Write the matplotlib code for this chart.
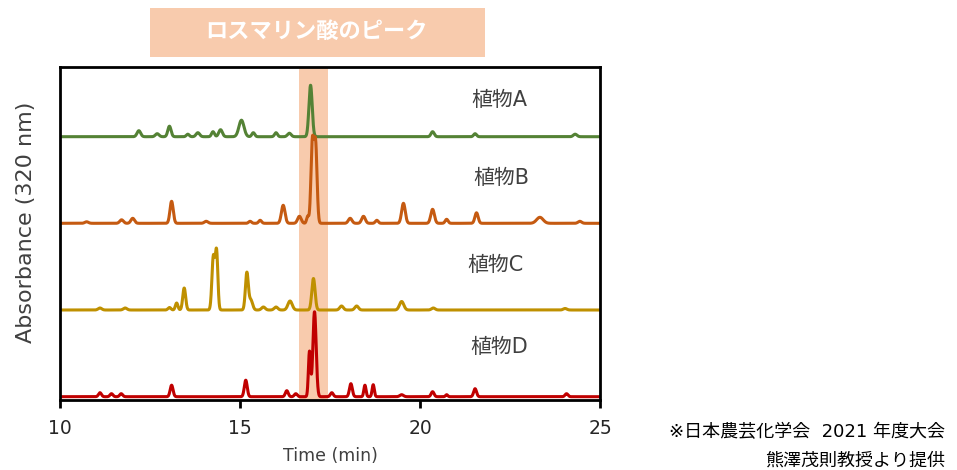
import numpy as np
import matplotlib.pyplot as plt

plt.rcParams['font.family'] = ['DejaVu Sans', 'Noto Sans CJK JP']

# peak tables: retention time (min), height, width (sigma, min)
a_times = [12.19, 12.70, 13.04, 13.55, 13.83, 14.25, 14.46, 15.04, 15.37, 16.00, 16.37, 16.96, 20.35, 21.53, 24.31]
a_heights = [6, 3, 10.5, 2.5, 4, 5, 7, 16.5, 4, 4, 3.5, 51.5, 5, 3, 2.5]
a_widths = [0.05, 0.05, 0.045, 0.04, 0.05, 0.04, 0.05, 0.07, 0.04, 0.04, 0.05, 0.045, 0.045, 0.04, 0.05]

b_times = [10.74, 11.71, 12.02, 13.10, 14.06, 15.28, 15.56, 16.20, 16.65, 16.88, 17.01, 17.10, 18.06,
           18.43, 18.80, 19.54, 20.35, 20.74, 21.57, 23.33, 24.44]
b_heights = [1.5, 3.5, 5, 22, 2, 2, 3, 18, 7, 7, 80, 78, 5, 7, 3, 20, 14, 4, 10.5, 6, 2]
b_widths = [0.05, 0.05, 0.05, 0.045, 0.05, 0.04, 0.04, 0.05, 0.05, 0.03, 0.04, 0.04, 0.05, 0.05,
            0.04, 0.05, 0.05, 0.04, 0.045, 0.09, 0.05]

c_times = [11.11, 11.81, 13.04, 13.24, 13.45, 14.26, 14.35, 15.19, 15.30, 15.65, 16.00, 16.39, 17.04,
           17.82, 18.24, 19.49, 20.37, 24.03]
c_heights = [2, 2, 2.5, 7, 22, 53, 57, 37, 10, 3, 3, 9, 31.5, 4, 4, 8.5, 2, 1.5]
c_widths = [0.05, 0.05, 0.04, 0.035, 0.04, 0.04, 0.035, 0.04, 0.05, 0.05, 0.05, 0.06, 0.045, 0.05,
            0.05, 0.06, 0.05, 0.05]

d_times = [11.11, 11.43, 11.70, 13.10, 15.16, 16.30, 16.55, 16.93, 17.07, 17.55, 18.08, 18.47, 18.70,
           19.49, 20.35, 20.74, 21.53, 24.07]
d_heights = [4, 3, 3, 11.5, 16.5, 6, 3, 45, 85, 4, 13, 11.5, 12, 2, 5, 2, 8, 3]
d_widths = [0.04, 0.04, 0.04, 0.04, 0.04, 0.04, 0.04, 0.03, 0.045, 0.04, 0.04, 0.03, 0.03, 0.05,
            0.04, 0.03, 0.04, 0.04]

baselines = [263.3, 176.7, 90.0, 3.3]
names = ['植物A', '植物B', '植物C', '植物D']
label_x = [22.2, 22.25, 22.1, 22.2]
label_y = [300, 222, 135, 53]
colors = ['#548235', '#C55A11', '#BF9000', '#C00000']

band = (16.64, 17.44)
time = np.linspace(10, 25, 3000)


def trace(base, times, heights, widths):
    y = np.full_like(time, base)
    for c, h, s in zip(times, heights, widths):
        y += h * np.exp(-0.5 * ((time - c) / s) ** 2)
    return y


fig = plt.figure(figsize=(9.57, 4.70), dpi=100)
ax = fig.add_axes([60 / 957, 1 - 400 / 470, 540 / 957, 333 / 470])

ax.axvspan(band[0], band[1], color='#F8CBAD', zorder=0, lw=0)

tables = [(a_times, a_heights, a_widths), (b_times, b_heights, b_widths),
          (c_times, c_heights, c_widths), (d_times, d_heights, d_widths)]
for base, tab, col, name, lx, ly in zip(baselines, tables, colors, names, label_x, label_y):
    ax.plot(time, trace(base, *tab), color=col, lw=2.2, zorder=2)
    ax.text(lx, ly, name, ha='center', va='center', fontsize=15, color='#404040')

ax.set_xlim(10, 25)
ax.set_ylim(0, 333)
ax.set_xticks([10, 15, 20, 25])
ax.set_yticks([])
ax.tick_params(axis='x', direction='out', length=6, width=2, labelsize=13.5, pad=8,
               colors='black', labelcolor='#262626')
for sp in ax.spines.values():
    sp.set_linewidth(2)
ax.set_xlabel('Time (min)', fontsize=12.5, color='#404040', labelpad=6)
ax.set_ylabel('Absorbance (320 nm)', fontsize=16, color='#404040')
ax.yaxis.set_label_coords(-0.044, 0.535)

# header box over the highlighted peak
fig.patches.append(plt.Rectangle((150 / 957, 1 - 57 / 470), 335 / 957, 49 / 470,
                                 transform=fig.transFigure, color='#F8CBAD', lw=0))
fig.text(317 / 957, 1 - 31 / 470, 'ロスマリン酸のピーク', ha='center', va='center',
         fontsize=16, color='white', fontweight='bold', family='Noto Sans CJK JP')

fig.text(945 / 957, 1 - 432 / 470, '※日本農芸化学会  2021 年度大会', ha='right', va='center',
         fontsize=13, color='black')
fig.text(945 / 957, 1 - 461 / 470, '熊澤茂則教授より提供', ha='right', va='center',
         fontsize=13, color='black')

fig.savefig('out.png', dpi=100)
